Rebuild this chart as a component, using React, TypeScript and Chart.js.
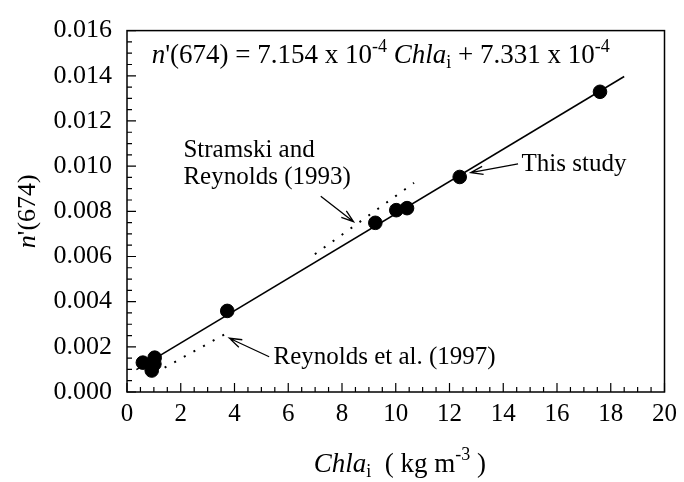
import React, { useEffect, useRef } from "react";
import { Chart, registerables } from "chart.js";

Chart.register(...registerables);

// ---- data ----
const chlaValues = [0.59, 1.03, 0.92, 1.02, 3.73, 9.24, 10.02, 10.42, 12.38, 17.6];
const nPrimeValues = [0.0013, 0.00152, 0.00095, 0.00124, 0.00359, 0.00749, 0.00805, 0.00814, 0.00952, 0.01329];

// fitted line of this study (end points)
const fitX = [0.35, 18.5];
const fitY = [0.00099, 0.01397];

// Stramski and Reynolds (1993) dotted line
const stramskiX = [6.99, 10.68];
const stramskiY = [0.0061, 0.00926];

// Reynolds et al. (1997) dotted line
const reynoldsX = [1.4, 3.9];
const reynoldsY = [0.00108, 0.00273];

const xTicks = [0, 2, 4, 6, 8, 10, 12, 14, 16, 18, 20];
const yTicks = [0, 0.002, 0.004, 0.006, 0.008, 0.01, 0.012, 0.014, 0.016];

// annotation anchors (data units): [tailX, tailY, tipX, tipY]
const arrowThisStudy = [14.55, 0.0101, 12.79, 0.00971];
const arrowStramski = [7.21, 0.00867, 8.43, 0.00754];
const arrowReynolds = [5.29, 0.00156, 3.81, 0.00238];
const labelThisStudy = { text: ["This study"], x: 14.68, y: 0.01006 };
const labelStramski = { text: ["Stramski and", "Reynolds (1993)"], x: 2.1, y: 0.01071 };
const labelReynolds = { text: ["Reynolds et al. (1997)"], x: 5.45, y: 0.00152 };
const equationPos = { x: 0.92, y: 0.01496 };

const SERIF = '"Liberation Serif", "DejaVu Serif", serif';

type Seg = { t: string; italic?: boolean; size: number; dy?: number };

function drawRich(ctx: CanvasRenderingContext2D, segs: Seg[], x: number, y: number, align: "left" | "center") {
  const fontOf = (s: Seg) => `${s.italic ? "italic " : ""}${s.size}px ${SERIF}`;
  let total = 0;
  for (const s of segs) {
    ctx.font = fontOf(s);
    total += ctx.measureText(s.t).width;
  }
  let cx = align === "center" ? x - total / 2 : x;
  ctx.textAlign = "left";
  ctx.textBaseline = "alphabetic";
  for (const s of segs) {
    ctx.font = fontOf(s);
    ctx.fillText(s.t, cx, y + (s.dy || 0));
    cx += ctx.measureText(s.t).width;
  }
}

function drawArrow(ctx: CanvasRenderingContext2D, x1: number, y1: number, x2: number, y2: number) {
  ctx.beginPath();
  ctx.moveTo(x1, y1);
  ctx.lineTo(x2, y2);
  const ang = Math.atan2(y2 - y1, x2 - x1);
  const L = 13;
  const a = 0.32;
  ctx.moveTo(x2 - L * Math.cos(ang - a), y2 - L * Math.sin(ang - a));
  ctx.lineTo(x2, y2);
  ctx.lineTo(x2 - L * Math.cos(ang + a), y2 - L * Math.sin(ang + a));
  ctx.stroke();
}

const decorPlugin = {
  id: "decor",
  afterDraw(chart: any) {
    const ctx = chart.ctx as CanvasRenderingContext2D;
    const xs = chart.scales.x;
    const ys = chart.scales.y;
    const { left, right, top, bottom } = chart.chartArea;
    ctx.save();
    ctx.strokeStyle = "#000";
    ctx.fillStyle = "#000";
    ctx.lineWidth = 1.5;
    ctx.strokeRect(left, top, right - left, bottom - top);

    // inward ticks
    ctx.lineWidth = 1.2;
    ctx.beginPath();
    for (let v = 0; v <= 20.001; v += 0.5) {
      const px = xs.getPixelForValue(v);
      const major = Math.abs(v / 2 - Math.round(v / 2)) < 1e-6;
      ctx.moveTo(px, bottom);
      ctx.lineTo(px, bottom - (major ? 9 : 5));
    }
    for (let i = 0; i <= 32; i++) {
      const v = i * 0.0005;
      const py = ys.getPixelForValue(v);
      const major = i % 4 === 0;
      ctx.moveTo(left, py);
      ctx.lineTo(left + (major ? 9 : 5), py);
    }
    ctx.stroke();

    // arrows
    ctx.lineWidth = 1.3;
    for (const a of [arrowThisStudy, arrowStramski, arrowReynolds]) {
      drawArrow(ctx, xs.getPixelForValue(a[0]), ys.getPixelForValue(a[1]), xs.getPixelForValue(a[2]), ys.getPixelForValue(a[3]));
    }

    // labels
    ctx.font = `25px ${SERIF}`;
    ctx.textAlign = "left";
    ctx.textBaseline = "middle";
    for (const lab of [labelThisStudy, labelStramski, labelReynolds]) {
      const px = xs.getPixelForValue(lab.x);
      const py = ys.getPixelForValue(lab.y);
      lab.text.forEach((t, i) => ctx.fillText(t, px, py + i * 27));
    }

    // equation
    const ex = xs.getPixelForValue(equationPos.x);
    const ey = ys.getPixelForValue(equationPos.y) + 9;
    drawRich(
      ctx,
      [
        { t: "n", italic: true, size: 27 },
        { t: "'(674) = 7.154 x 10", size: 27 },
        { t: "-4", size: 18, dy: -11 },
        { t: " ", size: 27 },
        { t: "Chla", italic: true, size: 27 },
        { t: "i", size: 18, dy: 5 },
        { t: " + 7.331 x 10", size: 27 },
        { t: "-4", size: 18, dy: -11 },
      ],
      ex,
      ey,
      "left"
    );

    // x title
    drawRich(
      ctx,
      [
        { t: "Chla", italic: true, size: 27 },
        { t: "i", size: 18, dy: 5 },
        { t: "  ( kg m", size: 27 },
        { t: "-3", size: 18, dy: -12 },
        { t: " )", size: 27 },
      ],
      (left + right) / 2 + 4,
      472,
      "center"
    );

    // y title
    ctx.save();
    ctx.translate(35, (top + bottom) / 2);
    ctx.rotate(-Math.PI / 2);
    drawRich(
      ctx,
      [
        { t: "n", italic: true, size: 26 },
        { t: "'(674)", size: 26 },
      ],
      0,
      0,
      "center"
    );
    ctx.restore();
    ctx.restore();
  },
};

export default function App() {
  const ref = useRef<HTMLCanvasElement | null>(null);
  useEffect(() => {
    if (!ref.current) return;
    const chart = new Chart(ref.current, {
      type: "scatter",
      data: {
        datasets: [
          {
            label: "fit",
            type: "line",
            data: fitX.map((x, i) => ({ x, y: fitY[i] })),
            borderColor: "#000",
            borderWidth: 1.6,
            pointRadius: 0,
            showLine: true,
          } as any,
          {
            label: "Stramski",
            type: "line",
            data: stramskiX.map((x, i) => ({ x, y: stramskiY[i] })),
            borderColor: "#000",
            borderWidth: 2,
            borderDash: [2, 9],
            pointRadius: 0,
            showLine: true,
          } as any,
          {
            label: "Reynolds",
            type: "line",
            data: reynoldsX.map((x, i) => ({ x, y: reynoldsY[i] })),
            borderColor: "#000",
            borderWidth: 2,
            borderDash: [2, 9],
            pointRadius: 0,
            showLine: true,
          } as any,
          {
            label: "data",
            data: chlaValues.map((x, i) => ({ x, y: nPrimeValues[i] })),
            backgroundColor: "#000",
            borderColor: "#000",
            pointRadius: 6.8,
            pointHoverRadius: 6.8,
          },
        ],
      },
      options: {
        animation: false,
        responsive: false,
        maintainAspectRatio: false,
        devicePixelRatio: 1,
        layout: { padding: { top: 23, right: 16, left: 0, bottom: 0 } },
        plugins: { legend: { display: false }, tooltip: { enabled: false } },
        scales: {
          x: {
            type: "linear",
            min: 0,
            max: 20,
            afterBuildTicks: (s: any) => {
              s.ticks = xTicks.map((v) => ({ value: v }));
            },
            afterFit: (s: any) => {
              s.height = 90;
            },
            grid: { display: false, drawTicks: false },
            border: { display: false },
            ticks: {
              color: "#000",
              padding: 7,
              font: { family: SERIF, size: 25 },
              maxRotation: 0,
              autoSkip: false,
              callback: (v: any) => String(v),
            },
          },
          y: {
            type: "linear",
            min: 0,
            max: 0.016,
            afterBuildTicks: (s: any) => {
              s.ticks = yTicks.map((v) => ({ value: v }));
            },
            afterFit: (s: any) => {
              s.width = 127;
            },
            grid: { display: false, drawTicks: false },
            border: { display: false },
            ticks: {
              color: "#000",
              padding: 15,
              font: { family: SERIF, size: 26 },
              autoSkip: false,
              callback: (v: any) => Number(v).toFixed(3),
            },
          },
        },
      },
      plugins: [decorPlugin],
    } as any);
    return () => chart.destroy();
  }, []);
  return (
    <div style={{ position: "fixed", left: 0, top: 0, width: 684, height: 482, background: "#fff" }}>
      <canvas ref={ref} width={684} height={482} style={{ width: 684, height: 482 }} />
    </div>
  );
}
